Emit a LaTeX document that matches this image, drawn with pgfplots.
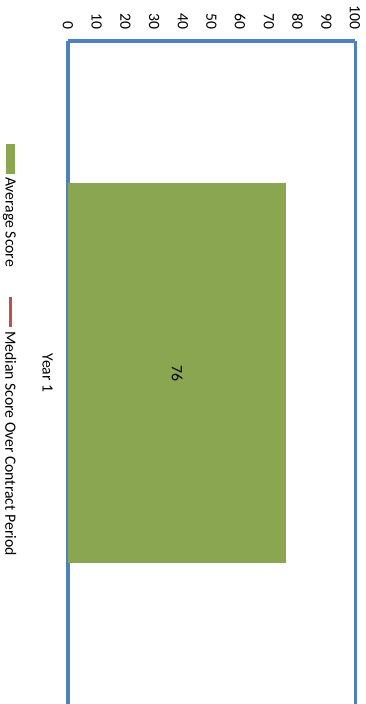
\documentclass[border=0pt]{standalone}
\usepackage{fontspec}
\setmainfont{Carlito}
\usepackage{pgfplots}
\pgfplotsset{compat=1.18}

\definecolor{bargreen}{RGB}{139,166,80}
\definecolor{frameblue}{RGB}{79,129,189}
\definecolor{medianred}{RGB}{192,80,77}

\begin{document}
\begin{tikzpicture}[rotate=-90, transform shape, font=\fontsize{15.7bp}{18bp}\selectfont]
\begin{axis}[
  at={(41bp,68bp)}, anchor=south west,
  scale only axis, width=664bp, height=287bp,
  xmin=-0.5, xmax=0.5, ymin=0, ymax=100,
  ytick={0,10,...,100},
  xtick={0}, xticklabels={Year 1},
  axis x line*=bottom, axis y line*=left,
  axis line style={draw=frameblue, line width=3bp},
  major tick length=0pt,
  /pgf/number format/assume math mode=true,
  yticklabel style={anchor=east, inner sep=0pt, xshift=-11bp},
  xticklabel style={anchor=north, inner sep=0pt, yshift=-15bp},
  clip=false,
  legend columns=-1,
  legend style={at={(axis description cs:0.155,-0.202)}, anchor=west,
    draw=none, fill=none, inner sep=0pt,
    nodes={inner sep=0pt, anchor=west},
    /tikz/every odd column/.append style={column sep=3bp},
    /tikz/every even column/.append style={column sep=28bp}},
]
\addplot[ybar, bar width=380bp, fill=bargreen, draw=none,
  nodes near coords,
  every node near coord/.append style={anchor=center, yshift=-109bp, text=black},
  legend image code/.code={\fill[bargreen] (0bp,-4.5bp) rectangle (30bp,4.5bp);}]
  coordinates {(0,76)};
\addlegendentry{Average Score}
\addplot[medianred, line width=3bp, no marks,
  legend image code/.code={\draw[medianred, line width=3bp] (0bp,0bp) -- (30bp,0bp);}]
  coordinates {(0,76)};
\addlegendentry{Median Score Over Contract Period}
\draw[frameblue, line width=3bp] (rel axis cs:0,1) -- (rel axis cs:1,1);
\end{axis}
\pgfresetboundingbox
\path (0,0) rectangle (704bp,366bp);
\end{tikzpicture}
\end{document}
